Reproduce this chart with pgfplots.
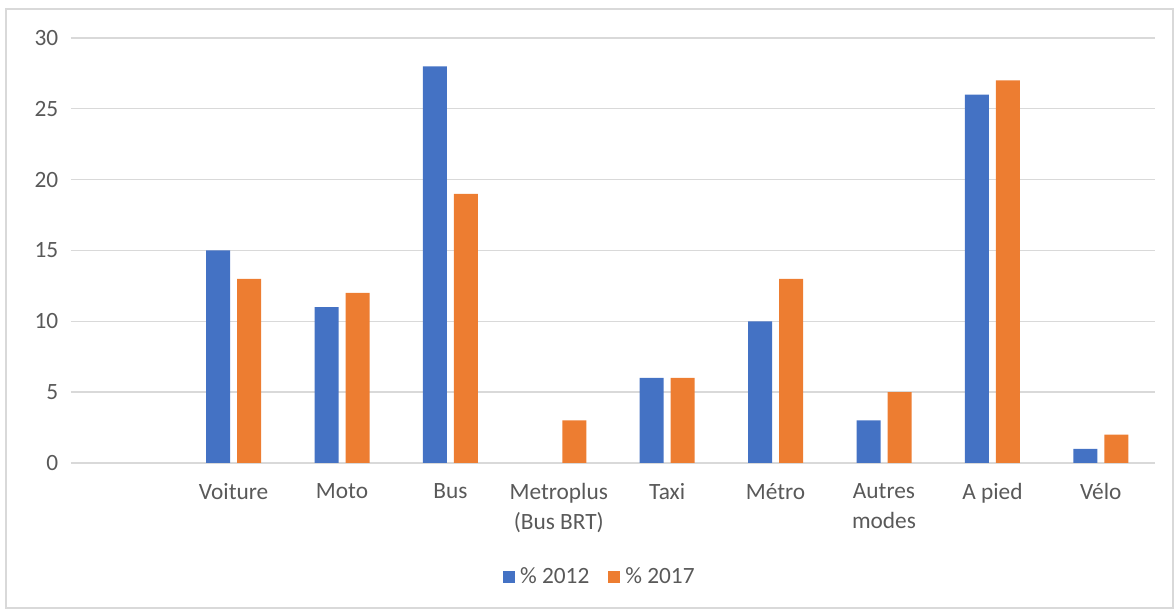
\documentclass[border=0pt]{standalone}
\usepackage{pgfplots}
\pgfplotsset{compat=1.18}
\usepackage{fontspec}
\setmainfont{Carlito}
\definecolor{bblue}{HTML}{4472C4}
\definecolor{borange}{HTML}{ED7D31}
\definecolor{gridgray}{HTML}{D9D9D9}
\definecolor{textgray}{HTML}{595959}
\begin{document}
\begin{tikzpicture}
\begin{axis}[
  scale only axis,
  width=813pt, height=318.75pt,
  xmin=-0.5, xmax=9.5, ymin=0, ymax=30,
  ytick={0,5,...,30},
  xtick={1,...,9},
  xticklabels={Voiture, Moto, Bus, {Metroplus\\(Bus BRT)}, Taxi, Métro, {Autres\\modes}, A pied, Vélo},
  axis line style={draw=none},
  major tick length=0pt,
  ymajorgrids,
  grid style={draw=gridgray, line width=1pt},
  /pgf/number format/assume math mode=true,
  tick label style={font=\fontsize{17.5}{22.5}\selectfont, text=textgray},
  xticklabel style={align=center, anchor=north, yshift=-12pt},
  yticklabel style={anchor=east, xshift=-6pt},
  ybar=5.25pt, bar width=18pt,
  clip=false,
  legend columns=2,
  legend style={draw=none, fill=none, at={(0.488,-0.268)}, anchor=center,
    font=\fontsize{17.5}{22.5}\selectfont, text=textgray,
    /tikz/every even column/.append style={column sep=12pt},
    /tikz/every odd column/.append style={column sep=2pt}},
  legend image code/.code={\fill[#1] (0pt,-4.5pt) rectangle (9pt,4.5pt);},
]
\addplot[fill=bblue, draw=none] coordinates {(1,15) (2,11) (3,28) (5,6) (6,10) (7,3) (8,26) (9,1)};
\addplot[fill=borange, draw=none] coordinates {(1,13) (2,12) (3,19) (4,3) (5,6) (6,13) (7,5) (8,27) (9,2)};
\legend{\% 2012, \% 2017}
\path ([xshift=-53.25pt,yshift=-109.5pt]rel axis cs:0,0) rectangle ([xshift=14.25pt,yshift=28.5pt]rel axis cs:1,1);
\draw[gridgray, line width=1.2pt] ([xshift=-48.75pt,yshift=-108.75pt]rel axis cs:0,0) rectangle ([xshift=13.5pt,yshift=21.75pt]rel axis cs:1,1);
\end{axis}
\end{tikzpicture}
\end{document}
